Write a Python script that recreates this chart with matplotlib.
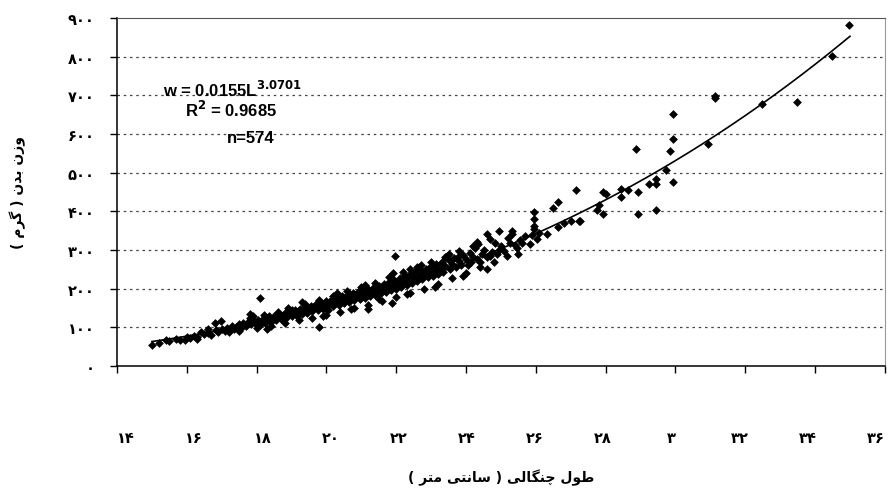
import matplotlib
matplotlib.use("Agg")
import matplotlib.pyplot as plt
import matplotlib.transforms as mtransforms
import numpy as np

# ---- data (fork length cm, body weight g) ----
LENGTH = [
    15.0, 15.2, 15.4, 15.5, 15.7, 15.8, 15.95, 16.0, 16.1, 16.2, 16.3, 16.4, 16.5, 16.6,
    16.7, 16.8, 16.85, 16.9, 16.97, 17.0, 17.1, 17.15, 17.2,
    17.3, 17.35, 17.4, 17.5, 17.55, 17.6, 17.7, 17.75, 17.81, 17.85, 17.9, 17.95, 18.0,
    18.05, 18.1, 18.1, 18.15, 18.2, 18.25, 18.3, 18.35, 18.4, 18.45, 18.5, 18.55, 18.6,
    18.65, 18.7, 18.75, 18.8, 18.85, 18.9, 18.95, 19.0,
    19.05, 19.1, 19.15, 19.2, 19.25, 19.3, 19.35, 19.4, 19.45, 19.5, 19.55, 19.6, 19.65,
    19.7, 19.75, 19.8, 19.8, 19.85, 19.9, 19.95, 20.0, 20.0, 20.05, 20.1, 20.15, 20.2,
    20.25, 20.3, 20.35, 20.4, 20.45, 20.5, 20.55, 20.6, 20.65, 20.7, 20.75, 20.8, 20.85,
    20.9, 20.95, 21.0, 21.05,
    21.1, 21.15, 21.2, 21.2, 21.25, 21.3, 21.35, 21.4, 21.45, 21.5, 21.55, 21.6, 21.65,
    21.7, 21.75, 21.8, 21.85, 21.89, 21.9, 21.95, 21.97, 22.0, 22.05, 22.1, 22.15, 22.2,
    22.25, 22.3, 22.35, 22.38, 22.4, 22.45, 22.5, 22.55, 22.6, 22.65, 22.7, 22.75, 22.8,
    22.85, 22.9, 22.95,
    23.0, 23.05, 23.1, 23.15, 23.2, 23.25, 23.3, 23.35, 23.45, 23.4, 23.5, 23.55, 23.6,
    23.65, 23.7, 23.78, 23.8, 23.85, 23.9, 24.0, 24.05, 24.1, 24.15, 24.2, 24.26, 24.3,
    24.35, 24.4, 24.45, 24.5, 24.59, 24.6, 24.69, 24.69, 24.75, 24.83, 24.9, 24.93, 24.97,
    25.0,
    25.1, 25.17, 25.25, 25.33, 25.33, 25.4, 25.45, 25.55, 25.6, 25.7, 25.83, 25.9, 25.96,
    25.96, 25.96, 25.96, 26.02, 26.1, 26.31, 26.48, 26.64, 26.64, 26.8, 27.0, 27.15, 27.25,
    27.27,
    27.81, 27.75, 27.93, 27.93, 28.01, 28.43, 28.43, 28.65, 28.86, 28.94, 28.94, 29.23,
    29.44, 29.44, 29.44, 29.72, 29.85, 29.94, 29.94, 29.94, 30.92, 31.13, 31.13, 32.47,
    33.47, 34.48, 34.97,
    # outer edges of the dense band
    17.5, 17.8, 18.0, 18.2, 18.4, 18.6, 18.8, 19.0, 19.2, 19.4, 19.6, 19.8, 20.0, 20.2,
    20.4, 20.6, 20.8, 21.0, 21.2, 21.4, 21.6, 21.8, 22.0, 22.2, 22.4, 22.6, 22.8, 23.0,
    23.2, 23.4, 23.6, 23.8, 24.0, 24.2, 24.4, 24.8, 25.2, 25.5, 19.3, 19.9, 20.3, 20.7,
    21.1, 21.5, 21.9, 22.3, 22.7, 23.1, 23.5, 23.9, 24.3, 24.6, 18.9, 18.3, 17.9, 17.2,
    16.6, 16.3,
]
WEIGHT = [
    55, 60, 67, 64, 70, 66, 68, 74, 72, 78, 75, 89, 82, 86,
    80, 110, 92, 88, 117, 95, 90, 98, 94,
    104, 96, 100, 108, 98, 112, 104, 115, 134, 108, 118, 112, 110,
    120, 175, 106, 116, 124, 112, 119, 128, 115, 122, 130, 118, 126,
    134, 121, 129, 138, 125, 132, 140, 128,
    136, 145, 130, 139, 148, 134, 142, 152, 138, 146, 156, 141, 150,
    160, 145, 100, 154, 163, 148, 158, 168, 150, 145, 162, 172, 155,
    165, 176, 158, 169, 180, 162, 172, 184, 166, 176, 188, 170, 180,
    192, 173, 184, 196,
    176, 188, 147, 200, 181, 192, 204, 184, 196, 208, 188, 200, 213,
    192, 205, 218, 196, 163, 209, 222, 285, 200, 214, 228, 205, 218,
    232, 210, 223, 251, 237, 214, 228, 242, 219, 233, 247, 224, 238,
    252, 229, 243,
    258, 234, 248, 263, 239, 254, 268, 244, 285, 259, 274, 250, 265,
    280, 256, 281, 271, 262, 286, 277, 262, 292, 270, 283, 304, 276,
    315, 268, 290, 300, 341, 283, 328, 285, 296, 317, 290, 350, 303,
    310,
    298, 285, 318, 350, 341, 312, 304, 326, 318, 335, 315, 340, 397,
    380, 363, 354, 328, 345, 341, 408, 425, 360, 370, 375, 455, 376,
    376,
    417, 403, 393, 451, 445, 458, 438, 456, 560, 393, 449, 470,
    484, 471, 403, 508, 556, 652, 587, 475, 574, 698, 692, 677,
    683, 802, 882,
    90, 125, 98, 132, 104, 140, 112, 145, 118, 160, 125, 170, 132, 180,
    140, 195, 150, 205, 158, 215, 168, 230, 178, 242, 190, 255, 200, 270,
    212, 282, 228, 298, 240, 310, 255, 270, 330, 290, 165, 128, 190, 148,
    210, 172, 240, 185, 262, 205, 290, 232, 320, 250, 150, 95, 130, 88,
    95, 70,
]
# fitted power curve printed on the chart: w = a * L^b
FIT_A, FIT_B = 0.0155, 3.0701
FIT_RANGE = (15.0, 35.0)

X_TICKS = [14, 16, 18, 20, 22, 24, 26, 28, 30, 32, 34, 36]
X_TICK_LABELS = ["۱۴", "۱۶", "۱۸", "۲۰", "۲۲", "۲۴", "۲۶", "۲۸", "۳", "۳۲", "۳۴", "۳۶"]
Y_TICKS = [0, 100, 200, 300, 400, 500, 600, 700, 800, 900]
Y_TICK_LABELS = ["۰", "۱۰۰", "۲۰۰", "۳۰۰", "۴۰۰", "۵۰۰", "۶۰۰", "۷۰۰", "۸۰۰", "۹۰۰"]
X_LABEL = "طول چنگالی ( سانتی متر )"
Y_LABEL = "وزن بدن ( گرم )"

# ---- minimal Persian shaping (matplotlib does no Arabic shaping / bidi) ----
# char -> (isolated, final, initial, medial); two entries = joins on right only
FORMS = {
    "ا": ("\uFE8D", "\uFE8E"), "د": ("\uFEA9", "\uFEAA"), "ر": ("\uFEAD", "\uFEAE"),
    "ز": ("\uFEAF", "\uFEB0"), "و": ("\uFEED", "\uFEEE"),
    "ب": ("\uFE8F", "\uFE90", "\uFE91", "\uFE92"),
    "ت": ("\uFE95", "\uFE96", "\uFE97", "\uFE98"),
    "س": ("\uFEB1", "\uFEB2", "\uFEB3", "\uFEB4"),
    "ط": ("\uFEC1", "\uFEC2", "\uFEC3", "\uFEC4"),
    "ل": ("\uFEDD", "\uFEDE", "\uFEDF", "\uFEE0"),
    "م": ("\uFEE1", "\uFEE2", "\uFEE3", "\uFEE4"),
    "ن": ("\uFEE5", "\uFEE6", "\uFEE7", "\uFEE8"),
    "چ": ("\uFB7A", "\uFB7B", "\uFB7C", "\uFB7D"),
    "گ": ("\uFB92", "\uFB93", "\uFB94", "\uFB95"),
    "ی": ("\uFBFC", "\uFBFD", "\uFBFE", "\uFBFF"),
}
MIRROR = {"(": ")", ")": "("}


def shape_fa(text):
    out = []
    for i, ch in enumerate(text):
        f = FORMS.get(ch)
        if f is None:
            out.append(MIRROR.get(ch, ch))
            continue
        prev = text[i - 1] if i > 0 else ""
        nxt = text[i + 1] if i + 1 < len(text) else ""
        join_prev = prev in FORMS and len(FORMS[prev]) == 4
        join_next = len(f) == 4 and nxt in FORMS
        if join_prev and join_next:
            out.append(f[3])
        elif join_prev:
            out.append(f[1])
        elif join_next:
            out.append(f[2])
        else:
            out.append(f[0])
    return "".join(reversed(out))


FA = dict(family="DejaVu Sans", fontweight="bold")

fig = plt.figure(figsize=(8.96, 4.89), dpi=100)
ax = fig.add_axes([0.1306, 0.2495, 0.857, 0.7117])

ax.scatter(LENGTH, WEIGHT, marker="D", s=20, color="black", linewidths=0, zorder=3)
lf = np.linspace(*FIT_RANGE, 200)
ax.plot(lf, FIT_A * lf ** FIT_B, color="black", lw=1.2, zorder=4)

ax.set_xlim(14, 36)
ax.set_ylim(0, 900)
ax.set_xticks(X_TICKS)
ax.set_xticklabels(X_TICK_LABELS, fontsize=10.5, **FA)
ax.set_yticks(Y_TICKS)
ax.set_yticklabels(Y_TICK_LABELS, fontsize=10.5, **FA)
ax.tick_params(axis="x", direction="out", length=5, width=1, pad=41)
ax.tick_params(axis="y", direction="out", length=5, width=1, pad=11)

# the scanned labels sit a little inward of the outer ticks
for v, lab in zip(X_TICKS, ax.get_xticklabels()):
    dx = (25 - v) * 0.6 / 72
    lab.set_transform(lab.get_transform()
                      + mtransforms.ScaledTranslation(dx, 0, fig.dpi_scale_trans))

for y in Y_TICKS[1:-1]:
    ax.axhline(y, color="#444444", lw=0.9, ls=(0, (2, 3)), zorder=1)

for s in ("left", "bottom"):
    ax.spines[s].set_color("black")
    ax.spines[s].set_linewidth(1.1)
ax.spines["top"].set_color("#555555")
ax.spines["right"].set_color("#999999")
ax.spines["right"].set_linewidth(0.8)

ax.set_xlabel(shape_fa(X_LABEL), fontsize=10, labelpad=17, **FA)
ax.set_ylabel(shape_fa(Y_LABEL), fontsize=10, labelpad=30, **FA)

txt = dict(family="Liberation Sans", fontweight="bold", fontsize=12, color="black",
           transform=ax.transAxes, va="baseline", ha="left", zorder=5)
ax.text(0.060, 0.776, r"w = 0.0155L$^{\mathbf{3.0701}}$", **txt)
ax.text(0.088, 0.718, r"R$^{\mathbf{2}}$ = 0.9685", **txt)
ax.text(0.143, 0.644, "n=574", **txt)

fig.savefig("out.png", dpi=100)
